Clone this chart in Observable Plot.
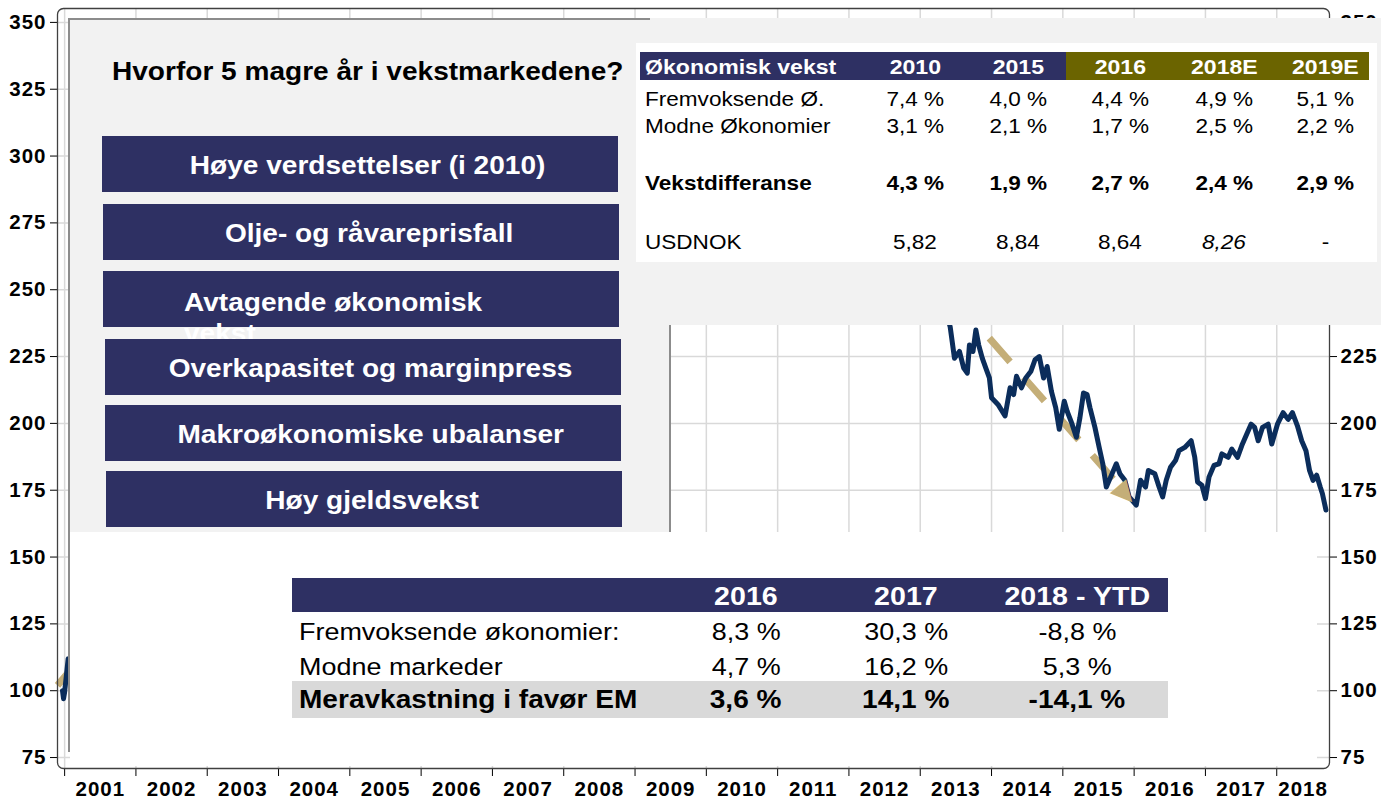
<!DOCTYPE html>
<html><head><meta charset="utf-8">
<script src="https://cdn.jsdelivr.net/npm/d3@7"></script>
<script src="https://cdn.jsdelivr.net/npm/@observablehq/plot@0.6"></script>
<style>
body{margin:0;background:#fff;font-family:"Liberation Sans",Arial,sans-serif;}
#wrap{position:relative;width:1381px;height:800px;overflow:hidden;}
#wrap > svg{position:absolute;left:0;top:0;}
.abs{position:absolute;box-sizing:border-box;}
.sx{display:inline-block;white-space:nowrap;transform:scaleX(1.1);}
</style></head><body><div id="wrap"></div>
<script>
// ---------- data ----------
const years = [2000.97, 2000.985, 2001.0, 2001.05, 2001.3, 2001.7, 2002.0, 2002.4, 2002.8, 2003.2, 2003.6, 2004.0, 2004.4, 2004.8, 2005.2, 2005.6, 2006.0, 2006.4, 2006.8, 2007.2, 2007.6, 2007.85, 2008.3, 2008.7, 2008.9, 2009.2, 2009.45, 2009.8, 2010.2, 2010.6, 2011.0, 2011.4, 2011.8, 2012.2, 2012.6, 2013.0, 2013.3,
  2013.42, 2013.48, 2013.55, 2013.61, 2013.66, 2013.69, 2013.74, 2013.78, 2013.82, 2013.87, 2013.92, 2013.97, 2014.00, 2014.09, 2014.19, 2014.26, 2014.31, 2014.35, 2014.42, 2014.48, 2014.55, 2014.61, 2014.67, 2014.73, 2014.78, 2014.84, 2014.90, 2014.95, 2015.02, 2015.06, 2015.13, 2015.19, 2015.24, 2015.29, 2015.34, 2015.38, 2015.45, 2015.51, 2015.56, 2015.61, 2015.67, 2015.75, 2015.80, 2015.87, 2015.93, 2016.03, 2016.09, 2016.16, 2016.20, 2016.29, 2016.35, 2016.40, 2016.45, 2016.51, 2016.58, 2016.63, 2016.71, 2016.80, 2016.85, 2016.89, 2016.95, 2017.00, 2017.05, 2017.12, 2017.19, 2017.23, 2017.32, 2017.37, 2017.45, 2017.51, 2017.58, 2017.64, 2017.69, 2017.74, 2017.80, 2017.88, 2017.93, 2018.01, 2018.09, 2018.16, 2018.22, 2018.29, 2018.35, 2018.41, 2018.46, 2018.51, 2018.56, 2018.61, 2018.64, 2018.69];
const indexValues = [100, 97, 99.5, 112, 112, 104, 109, 101, 93, 97, 118, 135, 130, 152, 165, 180, 214, 205, 232, 258, 290, 318, 282, 215, 175, 190, 250, 268, 282, 262, 300, 292, 262, 275, 258, 265, 248,
  236.1, 224.4, 226.9, 220.7, 218.8, 229.3, 226.9, 234.9, 229.3, 224.4, 220.7, 217.0, 209.6, 207.1, 202.8, 213.3, 210.8, 217.6, 213.3, 217.0, 219.4, 223.8, 225.0, 217.0, 221.3, 212.0, 205.9, 197.8, 208.3, 204.6, 199.7, 194.8, 202.2, 211.4, 210.8, 205.9, 198.5, 191.0, 184.9, 176.2, 179.9, 184.9, 181.2, 178.7, 172.5, 169.4, 178.7, 176.2, 182.4, 181.2, 176.2, 172.5, 178.7, 183.6, 186.1, 189.8, 191.0, 193.5, 187.3, 178.1, 176.9, 171.9, 179.9, 184.3, 184.9, 188.6, 187.3, 190.4, 187.3, 191.7, 196.0, 199.7, 198.5, 193.5, 198.5, 199.7, 192.3, 199.7, 204.0, 201.5, 204.0, 199.1, 193.5, 189.8, 182.4, 178.7, 180.6, 176.2, 173.8, 167.6];

// trend arrows (start/end of dashed shafts) and arrow tip
const arrowX1 = [2000.9, 2011.56];
const arrowY1 = [102, 304.9];
const arrowX2 = [2007.8, 2015.785];
const arrowY2 = [318, 176.8];
const arrowTipX = [2015.897];
const arrowTipY = [173.8];

const yTicks = [75, 100, 125, 150, 175, 200, 225, 250, 275, 300, 325, 350];
const yearTicks = [2001, 2002, 2003, 2004, 2005, 2006, 2007, 2008, 2009, 2010, 2011, 2012, 2013, 2014, 2015, 2016, 2017, 2018];

const title = "Hvorfor 5 magre år i vekstmarkedene?";
const reasons = ["Høye verdsettelser (i 2010)", "Olje- og råvareprisfall", "Avtagende økonomisk vekst", "Overkapasitet og marginpress", "Makroøkonomiske ubalanser", "Høy gjeldsvekst"];

const growthHeader = "Økonomisk vekst";
const growthCols = ["2010", "2015", "2016", "2018E", "2019E"];
const growthEM = [7.4, 4.0, 4.4, 4.9, 5.1];
const growthDM = [3.1, 2.1, 1.7, 2.5, 2.2];
const growthDiff = [4.3, 1.9, 2.7, 2.4, 2.9];
const usdnok = [5.82, 8.84, 8.64, 8.26, null];
const growthRowLabels = ["Fremvoksende Ø.", "Modne Økonomier", "Vekstdifferanse", "USDNOK"];

const returnCols = ["2016", "2017", "2018 - YTD"];
const returnEM = [8.3, 30.3, -8.8];
const returnDM = [4.7, 16.2, 5.3];
const returnExcess = [3.6, 14.1, -14.1];
const returnRowLabels = ["Fremvoksende økonomier:", "Modne markeder", "Meravkastning i favør EM"];

// ---------- styles ----------
const navy = "#2e3063", olive = "#6b6400", lineNavy = "#0b2d5b", tan = "#c4ae78", panelGrey = "#f2f2f2";

const pct = v => (v < 0 ? "-" : "") + Math.abs(v).toFixed(1).replace(".", ",") + " %";
const dec2 = v => v == null ? "-" : v.toFixed(2).replace(".", ",");

// ---------- chart ----------
const data = years.map((x, i) => ({x, y: indexValues[i]}));
const arrows = arrowX1.map((x1, i) => ({x1, y1: arrowY1[i], x2: arrowX2[i], y2: arrowY2[i]}));
const tips = arrowTipX.map((x, i) => ({x, y: arrowTipY[i]}));
const xDomain = [2000.9, 2018.74];
const yearLabelPos = yearTicks.map(y => (y + Math.min(y + 1, xDomain[1])) / 2);

const plot = Plot.plot({
  width: 1381, height: 800,
  marginLeft: 57, marginRight: 52, marginTop: 8, marginBottom: 32,
  x: {domain: xDomain},
  y: {domain: [70.9, 355.2]},
  style: {fontFamily: '"Liberation Sans", Arial, sans-serif', fontSize: "20.5px", fontWeight: "bold", color: "#000", background: "#fff", letterSpacing: "1px"},
  marks: [
    Plot.gridY(yTicks, {stroke: "#d9d9d9", strokeOpacity: 1, strokeWidth: 1.5}),
    Plot.gridX(yearTicks, {stroke: "#d9d9d9", strokeOpacity: 1, strokeWidth: 1.5}),
    Plot.link(arrows, {x1: "x1", y1: "y1", x2: "x2", y2: "y2", stroke: tan, strokeWidth: 7, strokeDasharray: "31.5,20.5"}),
    Plot.line(data, {x: "x", y: "y", stroke: lineNavy, strokeWidth: 5, strokeLinejoin: "round"}),
    Plot.text(tips, {x: "x", y: "y", text: () => "\u25B6", rotate: 48.7, fontSize: 28, fill: tan, fontFamily: "DejaVu Sans"}),
    Plot.axisY(yTicks, {anchor: "left", tickSize: 7, tickPadding: 4, label: null}),
    Plot.axisY(yTicks, {anchor: "right", tickSize: 7, tickPadding: 4, label: null}),
    Plot.axisX(yearTicks, {anchor: "bottom", tickSize: 8, tickFormat: () => "", label: null}),
    Plot.axisX(yearLabelPos, {anchor: "bottom", tickSize: 0, tickPadding: 13, tickFormat: d => String(Math.floor(d)), label: null}),
    Plot.frame({stroke: "#404040", strokeWidth: 1.3, rx: 6})
  ]
});
const wrap = document.getElementById("wrap");
wrap.appendChild(plot);

// ---------- overlays ----------
function rect(l, t, w, h, css = {}) {
  const d = document.createElement("div");
  d.className = "abs";
  Object.assign(d.style, {left: l + "px", top: t + "px", width: w + "px", height: h + "px"}, css);
  wrap.appendChild(d);
  return d;
}
function label(str, o) {
  const size = o.size;
  const d = document.createElement("div");
  d.className = "abs";
  const isCenter = o.cx != null;
  const w = isCenter ? (o.width || 140) : (o.width || 800);
  Object.assign(d.style, {
    left: (isCenter ? o.cx - w / 2 : o.left) + "px",
    top: (o.cy - size / 2) + "px",
    width: w + "px",
    lineHeight: (o.lineHeight || size) + "px",
    fontSize: size + "px",
    fontWeight: o.weight || "normal",
    fontStyle: o.italic ? "italic" : "normal",
    color: o.color || "#000",
    textAlign: isCenter ? "center" : "left",
    whiteSpace: o.wrap ? "normal" : "nowrap"
  });
  if (o.wrap) {
    d.textContent = str;
    d.style.transform = "scaleX(1.1)";
    d.style.transformOrigin = "left center";
  } else {
    const s = document.createElement("span");
    s.className = "sx";
    s.style.transformOrigin = isCenter ? "center" : "left";
    s.textContent = str;
    d.appendChild(s);
  }
  wrap.appendChild(d);
  return d;
}

// grey panels
rect(68, 18, 603, 514, {background: panelGrey, borderLeft: "2px solid #8c8c8c", borderTop: "2px solid #8c8c8c", borderRight: "2px solid #8c8c8c"});
rect(68, 18, 2, 734, {background: "#8c8c8c"});
rect(650, 18, 731, 307, {background: panelGrey});
rect(70, 532, 1247, 234, {background: "#fff"});

// title
label(title, {left: 112, cy: 72, size: 25.5, weight: "bold"});

// reason boxes
const boxLayout = [
  {l: 102, t: 136, w: 516, h: 56},
  {l: 103, t: 204, w: 516, h: 56},
  {l: 103, t: 271, w: 516, h: 56},
  {l: 105, t: 339, w: 516, h: 56},
  {l: 105, t: 405, w: 516, h: 56},
  {l: 106, t: 471, w: 516, h: 56}
];
reasons.forEach((r, i) => {
  const b = boxLayout[i];
  rect(b.l, b.t, b.w, b.h, {background: navy});
  if (i === 2) {
    label(r, {left: 184, cy: b.t + 29, size: 25.5, weight: "bold", color: "#fff", wrap: true, width: 300, lineHeight: 31});
  } else {
    label(r, {cx: b.l + b.w / 2 + 8, cy: b.t + 30, size: 25.5, weight: "bold", color: "#fff", width: 500});
  }
});

// growth table (top right)
rect(636, 43, 741, 219, {background: "#fff"});
rect(640, 52, 426, 28, {background: navy});
rect(1066, 52, 303, 28, {background: olive});
const gColX = [915, 1018, 1120, 1224, 1325];
label(growthHeader, {left: 645, cy: 66, size: 21, weight: "bold", color: "#fff", width: 230});
growthCols.forEach((c, j) => label(c, {cx: gColX[j], cy: 66, size: 21, weight: "bold", color: "#fff", width: 90}));
const gRows = [growthEM.map(pct), growthDM.map(pct), growthDiff.map(pct), usdnok.map(dec2)];
const gRowY = [99, 126, 183, 242];
gRows.forEach((vals, i) => {
  const bold = i === 2 ? "bold" : "normal";
  label(growthRowLabels[i], {left: 645, cy: gRowY[i], size: 20.5, weight: bold, width: 230});
  vals.forEach((v, j) => label(v, {cx: gColX[j], cy: gRowY[i], size: 20.5, weight: bold, italic: i === 3 && j === 3, width: 90}));
});

// returns table (bottom)
rect(292, 578, 876, 34, {background: navy});
rect(292, 681, 876, 37, {background: "#d9d9d9"});
const rColX = [746, 906, 1077];
returnCols.forEach((c, j) => label(c, {cx: rColX[j], cy: 596, size: 26, weight: "bold", color: "#fff", width: 160}));
const rRows = [returnEM, returnDM, returnExcess];
const rRowY = [632, 667, 700];
rRows.forEach((vals, i) => {
  const bold = i === 2 ? "bold" : "normal";
  const size = i === 2 ? 25.5 : 24.5;
  label(returnRowLabels[i], {left: 299, cy: rRowY[i], size, weight: bold, width: 360});
  vals.forEach((v, j) => label(pct(v), {cx: rColX[j], cy: rRowY[i], size, weight: bold, width: 150}));
});
</script></body></html>
